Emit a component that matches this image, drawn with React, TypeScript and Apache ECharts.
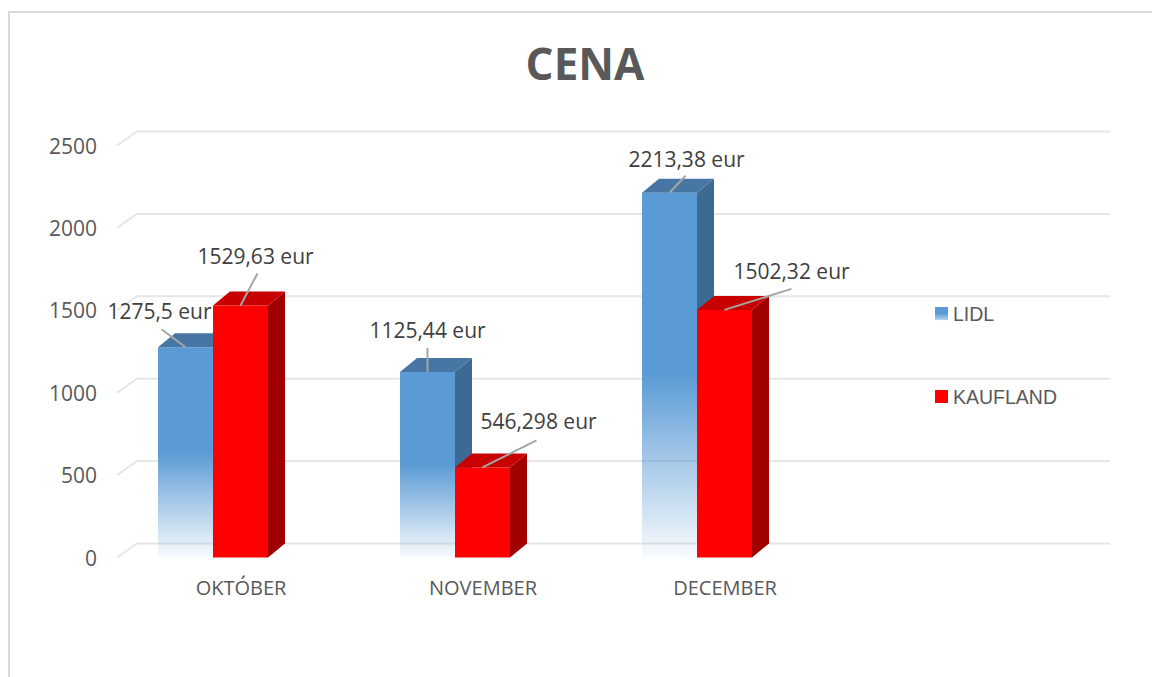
import React, { useEffect, useRef } from 'react';
import * as echarts from 'echarts';

// ---- data ----
const categories = ['OKTÓBER', 'NOVEMBER', 'DECEMBER'];
const seriesNames = ['LIDL', 'KAUFLAND'];
const lidlValues = [1275.5, 1125.44, 2213.38];
const kauflandValues = [1529.63, 546.298, 1502.32];
const lidlLabels = ['1275,5 eur', '1125,44 eur', '2213,38 eur'];
const kauflandLabels = ['1529,63 eur', '546,298 eur', '1502,32 eur'];
const yTicks = [0, 500, 1000, 1500, 2000, 2500];

// ---- styling / layout constants ----
const BAR_W = 55;
const DX = 17;
const DY = -14;
const GRID_DX = 20;
const GRID_DY = -14;
const GRID_X0 = 117;
const GRID_X1 = 1110;

// label placement offsets relative to the bar's front-top centre: [leaderStart, textCentre]
const lidlLabelOffsets = [
  { line: [-24, -18], text: [-26, -36] },
  { line: [0, -24], text: [0, -42] },
  { line: [16, -17], text: [17, -34] },
];
const kauflandLabelOffsets = [
  { line: [17, -32], text: [15, -49] },
  { line: [54, -27], text: [56, -46] },
  { line: [67, -21], text: [67, -39] },
];

const lidlColors = {
  front: new echarts.graphic.LinearGradient(0, 0, 0, 1, [
    { offset: 0, color: '#5B9BD5' },
    { offset: 0.5, color: '#5B9BD5' },
    { offset: 1, color: 'rgba(91,155,213,0.04)' },
  ]),
  top: '#4776A4',
  side: '#3D6A93',
};
const kauflandColors = {
  front: '#FF0000',
  top: '#C80000',
  side: '#A00000',
};

function makeBarRenderer(side: number, colors: any, labels: string[], offsets: any[]) {
  return (params: any, api: any) => {
    const idx = api.value(0);
    const val = api.value(1);
    const top = api.coord([idx, val]);
    const base = api.coord([idx, 0]);
    const cx = top[0];
    const x0 = side < 0 ? cx - BAR_W : cx;
    const x1 = x0 + BAR_W;
    const yT = top[1];
    const yB = base[1];
    const fcx = (x0 + x1) / 2;
    const off = offsets[params.dataIndex];
    return {
      type: 'group',
      children: [
        {
          type: 'polygon',
          shape: { points: [[x1, yT], [x1 + DX, yT + DY], [x1 + DX, yB + DY], [x1, yB]] },
          style: { fill: colors.side },
        },
        {
          type: 'rect',
          shape: { x: x0, y: yT, width: BAR_W, height: yB - yT },
          style: { fill: colors.front },
        },
        {
          type: 'polygon',
          shape: { points: [[x0, yT], [x1, yT], [x1 + DX, yT + DY], [x0 + DX, yT + DY]] },
          style: { fill: colors.top },
        },
        {
          type: 'line',
          shape: { x1: fcx + off.line[0], y1: yT + off.line[1], x2: fcx, y2: yT },
          style: { stroke: '#A6A6A6', lineWidth: 2 },
        },
        {
          type: 'text',
          x: fcx + off.text[0],
          y: yT + off.text[1],
          style: {
            text: labels[params.dataIndex],
            align: 'center',
            verticalAlign: 'middle',
            fill: '#404040',
            fontSize: 21,
            fontFamily: 'Open Sans',
          },
        },
      ],
    };
  };
}

export default function App() {
  const ref = useRef<HTMLDivElement>(null);

  useEffect(() => {
    if (!ref.current) return;
    const chart = echarts.init(ref.current, null, { renderer: 'svg' });
    const option: any = {
      animation: false,
      grid: { left: 92, top: 145.5, width: categories.length * 242, bottom: 119.5, containLabel: false },
      legend: {
        orient: 'vertical',
        left: 930,
        top: 298.5,
        itemWidth: 13,
        itemHeight: 13,
        itemGap: 63,
        icon: 'rect',
        selectedMode: false,
        textStyle: { color: '#595959', fontSize: 19.5, fontFamily: 'Liberation Sans' },
        data: [
          { name: seriesNames[0], itemStyle: { color: new echarts.graphic.LinearGradient(0, 0, 0, 1, [
            { offset: 0, color: '#5B9BD5' }, { offset: 0.5, color: '#5B9BD5' }, { offset: 1, color: '#B8D3EE' },
          ]) } },
          { name: seriesNames[1], itemStyle: { color: '#FF0000' } },
        ],
      },
      graphic: [
        {
          type: 'text',
          x: 585,
          y: 63,
          style: {
            text: 'CENA',
            align: 'center',
            verticalAlign: 'middle',
            fill: '#595959',
            fontSize: 44,
            fontWeight: 'bold',
            fontFamily: 'Open Sans',
          },
        },
      ],
      xAxis: {
        type: 'category',
        data: categories,
        axisLine: { show: false },
        axisTick: { show: false },
        splitLine: { show: false },
        axisLabel: {
          color: '#595959',
          fontSize: 20,
          fontFamily: 'Open Sans',
          margin: 20,
          padding: [0, 0, 0, 56],
        },
      },
      yAxis: {
        type: 'value',
        min: 0,
        max: 2500,
        interval: 500,
        offset: -25,
        axisLine: { show: false },
        axisTick: { show: false },
        splitLine: { show: false },
        axisLabel: {
          color: '#595959',
          fontSize: 21,
          fontFamily: 'Open Sans',
          margin: 20,
          formatter: (v: number) => String(v),
        },
      },
      series: [
        {
          type: 'custom',
          name: 'grid',
          silent: true,
          z: 1,
          data: yTicks.map((v) => [0, v]),
          encode: { x: 0, y: 1 },
          renderItem: (params: any, api: any) => {
            const y = api.coord([0, api.value(1)])[1];
            return {
              type: 'polyline',
              shape: { points: [[GRID_X0, y], [GRID_X0 + GRID_DX, y + GRID_DY], [GRID_X1, y + GRID_DY]] },
              style: { stroke: '#E6E6E6', lineWidth: 2, fill: null },
            };
          },
        },
        {
          type: 'custom',
          name: seriesNames[0],
          z: 2,
          itemStyle: { color: '#5B9BD5' },
          data: lidlValues.map((v, i) => [i, v]),
          encode: { x: 0, y: 1 },
          renderItem: makeBarRenderer(-1, lidlColors, lidlLabels, lidlLabelOffsets),
        },
        {
          type: 'custom',
          name: seriesNames[1],
          z: 2,
          itemStyle: { color: '#FF0000' },
          data: kauflandValues.map((v, i) => [i, v]),
          encode: { x: 0, y: 1 },
          renderItem: makeBarRenderer(1, kauflandColors, kauflandLabels, kauflandLabelOffsets),
        },
      ],
    };
    chart.setOption(option);
    return () => chart.dispose();
  }, []);

  return (
    <div style={{ position: 'fixed', left: 0, top: 0, width: 1152, height: 677, overflow: 'hidden', background: '#fff' }}>
      <div ref={ref} style={{ position: 'absolute', left: 0, top: 0, width: 1152, height: 677 }} />
      <div
        style={{
          position: 'absolute',
          left: 8,
          top: 11,
          width: 2000,
          height: 2000,
          borderLeft: '2px solid #D9D9D9',
          borderTop: '2px solid #D9D9D9',
          pointerEvents: 'none',
        }}
      />
    </div>
  );
}
